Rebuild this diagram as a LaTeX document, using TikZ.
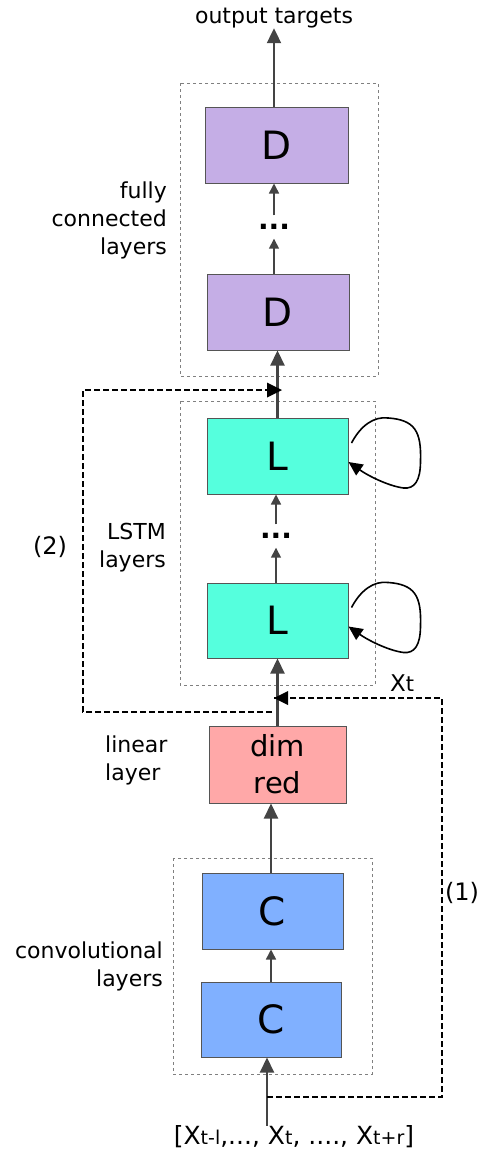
\documentclass[tikz,border=0pt]{standalone}
\usepackage{fontspec}
\setmainfont{DejaVu Sans}
\usetikzlibrary{arrows.meta,calc}
\definecolor{dcol}{HTML}{C5AEE6}
\definecolor{lcol}{HTML}{55FFDD}
\definecolor{rcol}{HTML}{FFA8A8}
\definecolor{ccol}{HTML}{80B0FF}
\definecolor{edge}{HTML}{555555}
\definecolor{arrcol}{HTML}{444444}
\tikzset{
  layerbox/.style={draw=edge, line width=1pt, minimum width=#1, inner sep=0pt},
  big/.style={font=\fontsize{39}{40}\selectfont},
  lbl/.style={font=\fontsize{22}{28}\selectfont, inner sep=0pt},
  frame/.style={draw=gray, line width=1pt, dash pattern=on 3pt off 3pt},
  bigarr/.style={draw=arrcol, line width=2.2pt, -{Triangle[length=15pt,width=14pt]}},
  smallarr/.style={draw=arrcol, line width=1.5pt, -{Triangle[length=10pt,width=10pt]}},
  dasharr/.style={draw=black, line width=2pt, dash pattern=on 6pt off 3pt},
  dotsnode/.style={font=\fontsize{28}{28}\selectfont\bfseries, inner sep=0pt, minimum height=23pt}
}
\begin{document}
\begin{tikzpicture}[x=1pt,y=-1pt]
\useasboundingbox (0,0) rectangle (483,1151);
% frames
\draw[frame] (180,83) rectangle (378,376);
\draw[frame] (180,401) rectangle (375,685);
\draw[frame] (173,858) rectangle (372,1074);
% boxes
\node[layerbox=143pt, minimum height=76pt, fill=dcol, big] (D1) at (276.5,145) {D};
\node[layerbox=142pt, minimum height=76pt, fill=dcol, big] (D2) at (278,312) {D};
\node[layerbox=141pt, minimum height=76pt, fill=lcol, big] (L1) at (277.5,456) {L};
\node[layerbox=141pt, minimum height=75pt, fill=lcol, big] (L2) at (277.5,620.5) {L};
\node[layerbox=137pt, minimum height=77pt, fill=rcol, align=center, font=\fontsize{29}{37}\selectfont] (R) at (277.5,764.5) {dim\\red};
\node[layerbox=141pt, minimum height=76pt, fill=ccol, big] (C1) at (272.5,911) {C};
\node[layerbox=140pt, minimum height=75pt, fill=ccol, big] (C2) at (271,1019.5) {C};
% dots
\node[dotsnode] (dD) at (274,227) {...};
\node[dotsnode] (dL) at (276,536) {...};
% labels
\node[lbl] (out) at (274,18) {output targets};
\node[lbl, align=right, anchor=east] (fcl) at (167,220) {fully\\connected\\layers};
\node[lbl, align=right, anchor=east] (lstm) at (166,548) {LSTM\\layers};
\node[lbl, align=left, anchor=west] (lin) at (105,760) {linear\\layer};
\node[lbl, align=right, anchor=east] (conv) at (163,966) {convolutional\\layers};
\node[lbl, font=\fontsize{24}{28}\selectfont] (n2) at (50,547) {(2)};
\node[lbl, font=\fontsize{24}{28}\selectfont] (n1) at (462,893) {(1)};
\node[lbl, font=\fontsize{23}{28}\selectfont] (xt) at (402,683) {X{\fontsize{21}{20}\selectfont t}};
\node[lbl, font=\fontsize{25}{28}\selectfont] (inp) at (294,1137) {[X{\fontsize{19}{20}\selectfont t-l},..., X{\fontsize{19}{20}\selectfont t}, ...., X{\fontsize{19}{20}\selectfont t+r}]};
% main arrows
\draw[bigarr] (D1.north -| out.south) -- (out.south);
\draw[smallarr] (dD.north) -- (dD.north |- D1.south);
\draw[smallarr] (D2.north -| dD.south) -- (dD.south);
\draw[bigarr] (L1.north) -- (L1.north |- D2.south);
\draw[smallarr] (dL.north) -- (dL.north |- L1.south);
\draw[smallarr] (L2.north -| dL.south) -- (dL.south);
\draw[bigarr] (R.north -| L2.south) -- (L2.south);
\draw[bigarr] (C1.north -| 271,0) -- (271,0 |- R.south);
\draw[smallarr] (C2.north -| 271,0) -- (271,0 |- C1.south);
\draw[bigarr] (inp.north -| 267,0) -- (267,0 |- C2.south);
% self loops
\foreach \n in {L1,L2}{
  \draw[line width=1.6pt, -{Triangle[length=14pt,width=13pt]}]
    ($(\n.east)+(3,-13)$) .. controls ($(\n.east)+(12,-30)$) and ($(\n.east)+(25,-40)$) ..
    ($(\n.east)+(40,-38)$) .. controls ($(\n.east)+(66,-36)$) and ($(\n.east)+(73,-25)$) ..
    ($(\n.east)+(72,5)$) .. controls ($(\n.east)+(72,25)$) and ($(\n.east)+(66,33)$) ..
    ($(\n.east)+(55,32)$) .. controls ($(\n.east)+(40,30)$) and ($(\n.east)+(20,20)$) ..
    ($(\n.east)+(0,6)$);
}
% dashed connections
\coordinate (s1) at (267,1097);
\coordinate (c1a) at (442,1097);
\coordinate (c1b) at (442,698);
\coordinate (e1) at (274,698);
\draw[dasharr] (s1) -- (c1a) -- (c1b) -- (e1);
\fill (e1) -- ++(14,-7) -- ++(0,14) -- cycle;
\coordinate (s2) at (272,712);
\coordinate (c2a) at (83,712);
\coordinate (c2b) at (83,390);
\coordinate (e2) at (282,390);
\draw[dasharr] (s2) -- (c2a) -- (c2b) -- (e2);
\fill (e2) -- ++(-15,-7.5) -- ++(0,15) -- cycle;
\end{tikzpicture}
\end{document}
